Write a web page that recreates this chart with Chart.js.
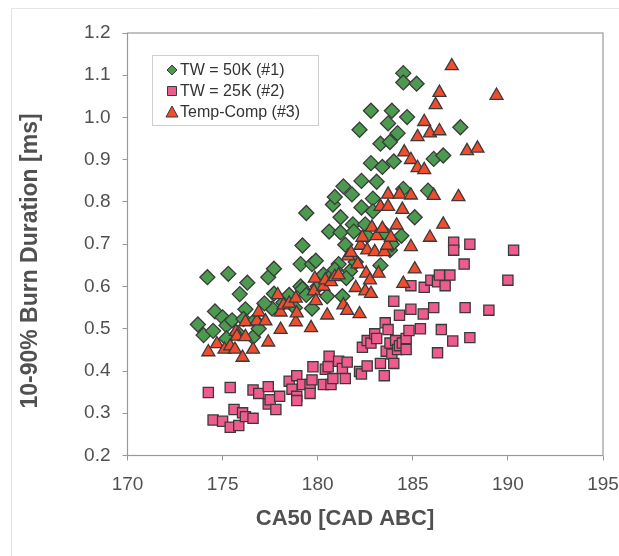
<!DOCTYPE html>
<html>
<head>
<meta charset="utf-8">
<script src="https://cdn.jsdelivr.net/npm/chart.js@4/dist/chart.umd.min.js"></script>
<style>
  body { margin: 0; background: #fff; }
  #wrap { width: 619px; height: 556px; }
</style>
</head>
<body>
<div id="wrap"><canvas id="burn-chart" width="619" height="556"></canvas></div>
<script>
// Series labels, in legend order
const seriesLabels = ["TW = 50K (#1)", "TW = 25K (#2)", "Temp-Comp (#3)"];

// TW = 50K (#1)
const tw50CA50 = [173.7, 174.0, 174.2, 174.6, 174.5, 175.0, 175.2, 175.3, 175.2, 175.5,
  175.9, 176.3, 176.2, 176.1, 176.6, 177.4, 177.7, 177.6, 177.7, 178.2,
  178.8, 179.1, 179.2, 179.4, 179.1, 179.2, 179.7, 179.7, 179.9, 180.3,
  180.5, 180.6, 180.8, 180.9, 181.1, 181.2, 181.2, 181.3, 181.35, 181.45,
  181.8, 181.85, 181.7, 182.0, 182.2, 182.3, 182.3, 182.5, 182.8, 182.8,
  182.9, 182.9, 183.1, 183.3, 183.4, 183.5, 183.7, 183.8, 183.9, 183.8,
  184.0, 184.2, 184.4, 184.5, 184.5, 184.5, 184.7, 185.1, 185.2, 185.8,
  186.1, 186.6, 187.5,
  180.0, 180.7, 181.5, 182.6, 183.3, 181.9, 178.5, 177.2, 176.7, 179.4,
  183.9, 180.9, 175.8, 176.9];
const tw50Burn = [0.51, 0.485, 0.622, 0.541, 0.495, 0.527, 0.508, 0.63, 0.477, 0.52,
  0.582, 0.609, 0.546, 0.523, 0.48, 0.622, 0.642, 0.548, 0.583, 0.562,
  0.55, 0.653, 0.697, 0.774, 0.60, 0.594, 0.548, 0.653, 0.661, 0.628,
  0.577, 0.73, 0.794, 0.812, 0.653, 0.764, 0.728, 0.577, 0.837, 0.699,
  0.818, 0.747, 0.636, 0.658, 0.971, 0.85, 0.787, 0.747, 1.016, 0.892,
  0.808, 0.778, 0.848, 0.938, 0.883, 0.728, 0.986, 0.942, 1.016, 0.686,
  0.896, 0.963, 0.72, 0.831, 1.105, 1.083, 1.001, 0.764, 1.08, 0.827,
  0.902, 0.91, 0.977,
  0.60, 0.625, 0.62, 0.72, 0.65, 0.73, 0.58, 0.56, 0.52, 0.58,
  0.70, 0.64, 0.49, 0.50];

// TW = 25K (#2)
const tw25CA50 = [174.25, 174.5, 175.0, 175.4, 175.4, 175.6, 175.85, 176.05, 176.2, 176.6,
  176.6, 176.9, 177.4, 177.4, 177.5, 177.8, 178.0, 178.5, 178.65, 178.9,
  178.9, 178.9, 179.2, 179.6, 179.6, 179.7, 179.75, 180.3, 180.4, 180.6,
  180.55, 180.7, 180.8, 181.1, 181.3, 181.45, 181.55, 182.2, 182.3, 182.35,
  182.6, 182.6, 182.8, 183.0, 183.1, 183.3, 183.5, 183.55, 183.6, 183.7,
  183.8, 183.9, 184.0, 184.0, 184.1, 184.2, 184.3, 184.3, 184.45, 184.65,
  184.65, 184.8, 184.9, 184.9, 185.4, 185.55, 185.6, 185.95, 186.1, 186.3,
  186.4, 186.3, 186.5, 186.7, 186.95, 187.1, 187.15, 187.15, 187.7, 187.75,
  188.0, 188.0, 189.0, 190.0, 190.3];
const tw25Burn = [0.349, 0.284, 0.281, 0.361, 0.267, 0.309, 0.271, 0.301, 0.292, 0.355,
  0.288, 0.347, 0.363, 0.322, 0.332, 0.309, 0.34, 0.376, 0.357, 0.389,
  0.34, 0.33, 0.368, 0.368, 0.347, 0.379, 0.41, 0.368, 0.404, 0.435,
  0.41, 0.368, 0.382, 0.423, 0.406, 0.382, 0.421, 0.399, 0.393, 0.456,
  0.472, 0.412, 0.466, 0.488, 0.477, 0.418, 0.389, 0.514, 0.447, 0.498,
  0.466, 0.44, 0.418, 0.565, 0.472, 0.451, 0.46, 0.532, 0.466, 0.451,
  0.477, 0.496, 0.546, 0.602, 0.50, 0.535, 0.598, 0.615, 0.55, 0.611,
  0.627, 0.443, 0.498, 0.602, 0.627, 0.471, 0.705, 0.686, 0.653, 0.55,
  0.479, 0.70, 0.544, 0.615, 0.686];

// Temp-Comp (#3)
const tempCompCA50 = [174.25, 174.7, 175.1, 175.4, 175.7, 175.65, 175.75, 176.05, 176.2, 176.2,
  176.6, 176.8, 176.9, 177.25, 177.4, 177.9, 178.05, 178.05, 178.2, 178.5,
  178.85, 178.85, 178.9, 179.65, 179.8, 179.85, 179.9, 180.3, 180.4, 180.5,
  180.7, 180.9, 181.1, 181.35, 181.55, 181.6, 181.75, 182.0, 182.1, 182.2,
  182.25, 182.35, 182.5, 182.55, 182.6, 182.75, 182.8, 182.85, 183.0, 183.1,
  183.2, 183.3, 183.4, 183.5, 183.65, 183.7, 183.7, 183.85, 184.15, 184.3,
  184.45, 184.5, 184.55, 184.9, 184.9, 184.9, 185.1, 185.25, 185.25, 185.6,
  185.6, 185.9, 185.9, 186.1, 186.2, 186.4, 186.4, 186.6, 187.05, 187.4,
  187.85, 188.4, 189.4];
const tempCompBurn = [0.445, 0.464, 0.451, 0.459, 0.493, 0.451, 0.482, 0.432, 0.516, 0.481,
  0.451, 0.518, 0.539, 0.518, 0.468, 0.58, 0.498, 0.539, 0.556, 0.56,
  0.572, 0.516, 0.537, 0.502, 0.589, 0.619, 0.566, 0.60, 0.615, 0.532,
  0.611, 0.623, 0.627, 0.556, 0.543, 0.672, 0.68, 0.597, 0.653, 0.535,
  0.697, 0.716, 0.589, 0.631, 0.686, 0.615, 0.583, 0.74, 0.682, 0.72,
  0.631, 0.789, 0.737, 0.682, 0.697, 0.818, 0.789, 0.716, 0.745, 0.818,
  0.782, 0.607, 0.918, 0.90, 0.816, 0.694, 0.641, 0.881, 0.954, 0.876,
  0.99, 0.963, 0.716, 0.815, 1.03, 0.968, 1.059, 0.747, 1.122, 0.812,
  0.921, 0.927, 1.052];

function toPoints(xs, ys) {
  return xs.map((x, i) => ({ x: x, y: ys[i] }));
}

const GREEN = "#4c9a50";
const PINK = "#ef5b8d";
const RED = "#f04d2e";
const EDGE = "#3a3a3a";
const TEXT = "#505050";

// Plot frame, outer chart border, axis titles and the boxed legend
const decorPlugin = {
  id: "decor",
  beforeDatasetsDraw(chart) {
    const ctx = chart.ctx;
    const a = chart.chartArea;
    ctx.save();
    ctx.strokeStyle = "#999";
    ctx.lineWidth = 1.2;
    ctx.strokeRect(a.left, a.top, a.right - a.left, a.bottom - a.top);
    // faint outer border of the chart area
    ctx.strokeStyle = "#e4e4e4";
    ctx.lineWidth = 1;
    ctx.beginPath();
    ctx.moveTo(11.5, 556);
    ctx.lineTo(11.5, 8.5);
    ctx.lineTo(619, 8.5);
    ctx.stroke();
    ctx.restore();
  },
  afterDraw(chart) {
    const ctx = chart.ctx;
    ctx.save();
    ctx.fillStyle = TEXT;
    ctx.textAlign = "center";
    ctx.textBaseline = "middle";
    ctx.font = "bold 22px 'Liberation Sans', Arial, sans-serif";
    ctx.fillText("CA50 [CAD ABC]", 345, 519);
    ctx.font = "bold 23px 'Liberation Sans', Arial, sans-serif";
    ctx.translate(31, 261);
    ctx.rotate(-Math.PI / 2);
    ctx.fillText("10-90% Burn Duration [ms]", 0, 0);
    ctx.restore();

    // legend
    ctx.save();
    ctx.fillStyle = "#fff";
    ctx.fillRect(152, 55, 166, 70);
    ctx.strokeStyle = "#cfcfcf";
    ctx.lineWidth = 1;
    ctx.strokeRect(152.5, 55.5, 166, 70);
    const rows = [70, 91, 112];
    chart.data.datasets.forEach((ds, i) => {
      const cx = 172, cy = rows[i];
      ctx.fillStyle = ds.backgroundColor;
      ctx.strokeStyle = EDGE;
      ctx.lineWidth = 1;
      ctx.beginPath();
      if (ds.pointStyle === "rectRot") {
        ctx.moveTo(cx, cy - 5); ctx.lineTo(cx + 5, cy); ctx.lineTo(cx, cy + 5); ctx.lineTo(cx - 5, cy);
      } else if (ds.pointStyle === "rect") {
        ctx.rect(cx - 4.5, cy - 4.5, 9, 9);
      } else {
        ctx.moveTo(cx, cy - 6); ctx.lineTo(cx + 6, cy + 5); ctx.lineTo(cx - 6, cy + 5);
      }
      ctx.closePath();
      ctx.fill();
      ctx.stroke();
      ctx.fillStyle = "#333";
      ctx.font = "16px 'Liberation Sans', Arial, sans-serif";
      ctx.textAlign = "left";
      ctx.textBaseline = "middle";
      ctx.fillText(ds.label, 180, cy + 1);
    });
    ctx.restore();
  }
};

const ctx = document.getElementById("burn-chart").getContext("2d");
const burnChart = new Chart(ctx, {
  type: "scatter",
  data: {
    datasets: [
      {
        label: seriesLabels[0],
        data: toPoints(tw50CA50, tw50Burn),
        pointStyle: "rectRot",
        pointRadius: 7.5,
        backgroundColor: GREEN,
        borderColor: EDGE,
        borderWidth: 1.3,
        order: 2
      },
      {
        label: seriesLabels[1],
        data: toPoints(tw25CA50, tw25Burn),
        pointStyle: "rect",
        pointRadius: 7.2,
        backgroundColor: PINK,
        borderColor: EDGE,
        borderWidth: 1.3,
        order: 1
      },
      {
        label: seriesLabels[2],
        data: toPoints(tempCompCA50, tempCompBurn),
        pointStyle: "triangle",
        pointRadius: 7.5,
        backgroundColor: RED,
        borderColor: EDGE,
        borderWidth: 1.3,
        order: 0
      }
    ]
  },
  options: {
    responsive: false,
    animation: false,
    events: [],
    layout: { padding: { left: 0, top: 33, right: 16, bottom: 0 } },
    plugins: {
      legend: { display: false },
      tooltip: { enabled: false }
    },
    scales: {
      x: {
        type: "linear",
        min: 170,
        max: 195,
        ticks: {
          stepSize: 5,
          padding: 13,
          color: TEXT,
          font: { family: "'Liberation Sans', Arial, sans-serif", size: 19 }
        },
        grid: { drawOnChartArea: false, tickLength: 5, color: "#999" },
        border: { display: false },
        afterFit: function(scale) {
          scale.height = 100.5;
          scale.paddingLeft = 0;
          scale.paddingRight = 0;
        }
      },
      y: {
        min: 0.2,
        max: 1.2,
        ticks: {
          stepSize: 0.1,
          padding: 12,
          color: TEXT,
          font: { family: "'Liberation Sans', Arial, sans-serif", size: 19 },
          callback: v => Number(v).toFixed(1)
        },
        grid: { drawOnChartArea: false, tickLength: 5, color: "#999" },
        border: { display: false },
        afterFit: function(scale) {
          scale.width = 127.5;
        }
      }
    }
  },
  plugins: [decorPlugin]
});
</script>
</body>
</html>
